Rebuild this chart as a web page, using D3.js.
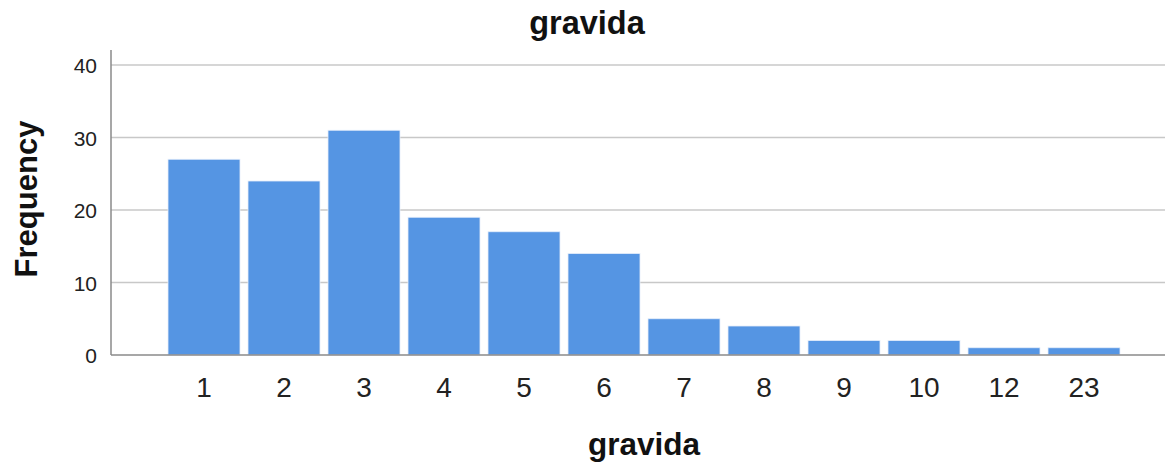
<!DOCTYPE html>
<html><head><meta charset="utf-8">
<script src="https://cdn.jsdelivr.net/npm/d3@7"></script>
<style>body{margin:0;background:#fff}svg{display:block}text{font-family:Arial,"Liberation Sans",sans-serif}</style>
</head><body><svg id="c" width="1167" height="463"></svg>
<script>
const categories = ["1","2","3","4","5","6","7","8","9","10","12","23"];
const frequencies = [27,24,31,19,17,14,5,4,2,2,1,1];
const yTicks = [0,10,20,30,40];
const chartTitle = "gravida";
const xTitle = "gravida";
const yTitle = "Frequency";

(function(){
const svg = d3.select("#c");
const pLeft = 111, pRight = 1165, pTop = 50, pBottom = 355;
const x = d3.scaleBand().domain(categories).range([164, 1124]).paddingInner(0.1).paddingOuter(0.05);
const y = d3.scaleLinear().domain([0, 40]).range([pBottom, 65]);

svg.append("g").selectAll("line").data(yTicks.filter(d => d > 0)).join("line")
  .attr("x1", pLeft).attr("x2", pRight).attr("y1", d => y(d)).attr("y2", d => y(d))
  .attr("stroke", "#c8c8c8").attr("stroke-width", 1.5);

svg.append("g").selectAll("rect").data(frequencies).join("rect")
  .attr("x", (d, i) => x(categories[i])).attr("width", x.bandwidth())
  .attr("y", d => y(d)).attr("height", d => y(0) - y(d))
  .attr("fill", "#5595e3").attr("stroke", "#e6eefa").attr("stroke-width", 0.8);

const yAxis = d3.axisLeft(y).tickValues(yTicks).tickSize(0).tickPadding(14);
const gy = svg.append("g").attr("transform", `translate(${pLeft},1)`).call(yAxis);
gy.select(".domain").remove();
gy.selectAll("text").attr("font-size", 21).attr("fill", "#222");
svg.append("line").attr("x1", pLeft).attr("x2", pLeft).attr("y1", pTop).attr("y2", pBottom)
  .attr("stroke", "#8a8a8a").attr("stroke-width", 1.5);

const xAxis = d3.axisBottom(x).tickSize(0).tickPadding(22);
const gx = svg.append("g").attr("transform", `translate(0,${pBottom})`).call(xAxis);
gx.select(".domain").remove();
gx.selectAll("text").attr("font-size", 28).attr("fill", "#222");
svg.append("line").attr("x1", pLeft).attr("x2", pRight).attr("y1", pBottom).attr("y2", pBottom)
  .attr("stroke", "#8a8a8a").attr("stroke-width", 1.5);

svg.append("text").attr("x", 587).attr("y", 34).attr("text-anchor", "middle")
  .attr("font-size", 32.5).attr("font-weight", "bold").attr("fill", "#111").text(chartTitle);
svg.append("text").attr("x", 644).attr("y", 455).attr("text-anchor", "middle")
  .attr("font-size", 31.5).attr("font-weight", "bold").attr("fill", "#111").text(xTitle);
svg.append("text").attr("transform", "translate(37,199) rotate(-90)").attr("text-anchor", "middle")
  .attr("font-size", 31).attr("font-weight", "bold").attr("fill", "#111").text(yTitle);
})();
</script></body></html>
